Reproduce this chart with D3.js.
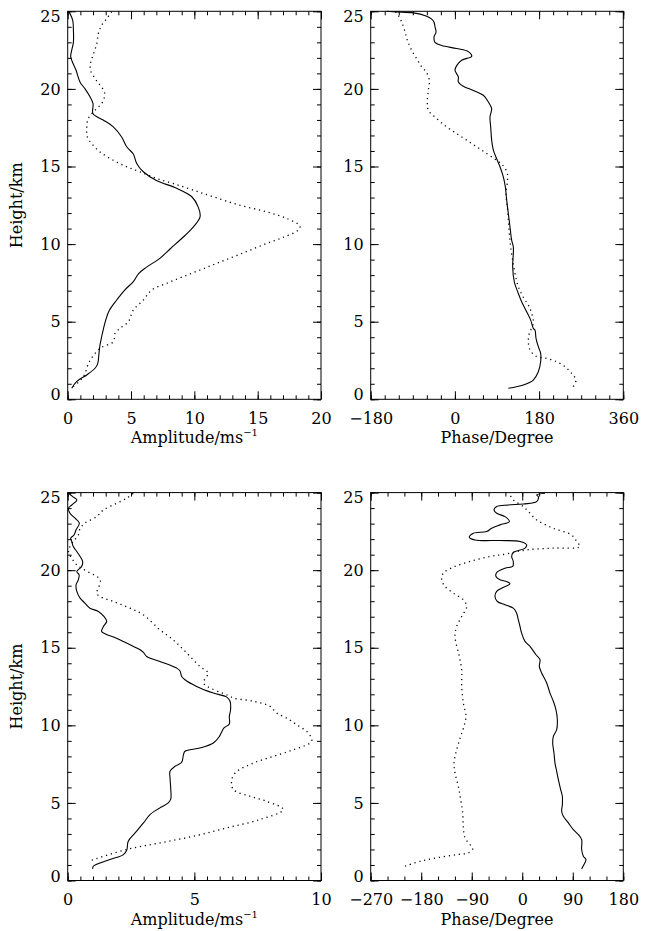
<!DOCTYPE html>
<html>
<head>
<meta charset="utf-8">
<script src="https://cdn.jsdelivr.net/npm/d3@7/dist/d3.min.js"></script>
<style>
body { margin: 0; background: #fff; }
svg text { font-family: "DejaVu Serif", serif; fill: #000; }
.tick text { font-size: 16px; }
.title { font-size: 16px; }
</style>
</head>
<body>
<div id="chart"></div>
<script>
// axis ranges and tick labels
var heightDomain = [0, 25];
var heightTicks = [0, 5, 10, 15, 20, 25];
var ampTopDomain = [0, 20],      ampTopTicks = [0, 5, 10, 15, 20];
var phaseTopDomain = [-180, 360], phaseTopTicks = [-180, 0, 180, 360];
var ampBotDomain = [0, 10],      ampBotTicks = [0, 5, 10];
var phaseBotDomain = [-270, 180], phaseBotTicks = [-270, -180, -90, 0, 90, 180];

// profiles: [height km, value]
var ampTopSolid = [[0.71,0.32],[1.14,0.7],[1.57,1.5],[2.0,2.16],[2.3,2.37],[2.96,2.47],[3.5,2.55],[4.03,2.68],[4.46,2.8],[5.1,3.0],[5.75,3.3],[6.4,3.87],[7.04,4.5],[7.6,5.2],[8.1,5.6],[8.5,6.2],[9.1,7.3],[9.7,8.1],[10.36,9.0],[11.0,9.8],[11.76,10.45],[12.4,10.3],[13.05,9.8],[13.6,8.6],[14.1,7.0],[14.66,5.97],[15.2,5.45],[15.8,5.18],[16.27,4.66],[16.9,4.26],[17.55,3.6],[18.0,2.8],[18.4,2.0],[19.05,2.0],[19.5,1.76],[20.0,1.37],[20.45,0.97],[21.2,0.66],[22.06,0.24],[22.5,0.32],[23.0,0.45],[23.8,0.45],[24.4,0.4],[24.85,0.18],[25.0,0.05]];
var ampTopDotted = [[0.82,0.45],[1.46,1.24],[2.42,1.71],[3.28,2.55],[3.71,3.6],[4.25,3.74],[4.57,4.13],[5.0,4.79],[5.75,5.18],[6.39,5.97],[7.04,6.63],[7.47,7.8],[7.9,9.1],[8.33,10.45],[8.76,11.76],[9.18,13.08],[9.61,14.4],[10.04,15.7],[10.43,17.0],[10.9,18.2],[11.16,18.34],[11.65,17.3],[12.08,15.7],[12.5,13.6],[13.05,11.5],[13.48,9.9],[13.9,8.34],[14.23,7.03],[14.66,5.7],[14.98,4.66],[15.4,3.6],[15.94,2.55],[16.48,1.9],[16.9,1.55],[17.45,1.5],[18.1,1.63],[18.63,2.16],[19.06,2.68],[19.38,2.87],[19.8,2.9],[20.24,2.55],[20.67,2.16],[21.2,1.8],[21.63,1.8],[22.17,2.0],[22.9,2.29],[23.56,2.42],[24.1,2.68],[24.53,3.08],[24.96,3.47]];

var phaseTopSolid = [[0.71,114.2],[0.92,146.3],[1.24,167.6],[1.78,178.3],[2.42,183.3],[2.96,183.3],[3.39,178.3],[3.93,173.4],[4.46,171.2],[4.57,167.6],[5.1,162],[5.64,153.4],[6.29,142.7],[6.82,135.6],[7.57,127],[8.54,123.5],[9.4,124.9],[9.83,124.9],[10.26,121.3],[11.1,117.8],[11.97,114.2],[12.83,110.7],[13.69,107.8],[14.33,103.5],[14.98,96.4],[15.5,89.3],[16.05,82.2],[16.7,78.6],[17.55,76.5],[18.2,75],[18.73,78.6],[19.16,71.5],[19.59,60.8],[19.9,39.4],[20.17,18],[20.45,7.4],[20.77,7.4],[21.2,0.2],[21.5,3.8],[21.85,14.5],[22.1,35.9],[22.4,28.7],[22.6,3.8],[22.8,-28.3],[23.0,-42.5],[23.35,-44.6],[23.67,-40.3],[24.0,-42.5],[24.3,-44.6],[24.5,-49.6],[24.7,-61.7],[24.9,-88.8],[24.96,-124.4],[25.0,-146]];
var phaseTopDotted = [[0.82,253.1],[1.24,258.8],[1.67,249.6],[2.1,235.3],[2.42,217.5],[2.64,196.1],[2.75,174.8],[3.18,160.5],[3.82,157],[4.25,159.1],[4.89,167.6],[5.54,164.1],[6.07,157],[6.5,147.7],[7.25,135.6],[8.11,128.5],[8.97,123.5],[9.83,119.2],[10.69,116.4],[11.55,114.2],[12.4,112.1],[13.26,109.2],[14.0,112.1],[14.55,112.1],[15.09,102.1],[15.4,89.3],[15.84,67.9],[16.27,46.5],[16.7,25.2],[17.12,3.8],[17.55,-17.6],[18.09,-39],[18.63,-56.8],[19.27,-58.9],[19.91,-56.8],[20.56,-54.6],[21.1,-61.7],[21.42,-71],[21.95,-81.7],[22.49,-92.4],[23.13,-101.6],[23.67,-106.6],[24.31,-113.7],[24.74,-120.9],[25.0,-128]];

var ampBotSolid = [[0.75,0.99],[0.92,1.01],[1.35,1.67],[1.67,2.2],[1.95,2.33],[2.53,2.39],[3.07,2.66],[3.71,2.99],[4.25,3.25],[4.68,3.64],[5.0,3.97],[5.26,4.07],[5.86,4.07],[6.61,4.04],[7.04,4.04],[7.36,4.24],[7.62,4.5],[8.11,4.57],[8.33,4.63],[8.54,5.22],[8.86,5.75],[9.29,5.99],[9.83,6.17],[10.09,6.38],[10.58,6.38],[11.0,6.43],[11.55,6.41],[11.82,6.28],[12.08,5.75],[12.51,5.09],[12.94,4.63],[13.15,4.5],[13.52,4.43],[13.69,4.3],[14.12,3.64],[14.44,3.12],[14.7,2.99],[14.87,2.86],[15.19,2.46],[15.62,1.93],[15.9,1.47],[16.05,1.34],[16.37,1.41],[16.7,1.54],[17.02,1.43],[17.34,1.21],[17.55,0.88],[17.88,0.68],[18.2,0.49],[18.63,0.36],[19.06,0.33],[19.38,0.42],[19.7,0.45],[19.91,0.36],[20.24,0.55],[20.56,0.59],[20.88,0.49],[21.2,0.36],[21.52,0.22],[21.85,0.16],[22.06,0.12],[22.27,0.25],[22.6,0.33],[23.03,0.46],[23.35,0.29],[23.67,0.09],[23.99,0.03],[24.2,0.16],[24.53,0.36],[24.74,0.2],[24.96,0.03]];
var ampBotDotted = [[1.31,0.95],[2.0,2.33],[2.42,3.64],[2.85,4.96],[3.39,6.28],[3.93,7.59],[4.57,8.51],[5.1,7.86],[5.43,7.2],[5.86,6.54],[6.4,6.47],[6.93,6.61],[7.57,7.33],[8.0,8.12],[8.43,8.91],[8.97,9.63],[9.5,9.5],[10.04,9.04],[10.47,8.64],[10.79,8.25],[11.22,7.99],[11.55,7.33],[11.76,6.54],[11.87,6.41],[12.73,5.36],[13.15,5.49],[13.37,5.55],[13.8,5.22],[14.66,4.7],[15.5,4.17],[16.16,3.64],[17.12,2.99],[17.55,2.46],[17.98,1.8],[18.3,1.28],[18.52,1.14],[18.84,1.21],[19.38,1.28],[20.0,0.68],[20.34,0.36],[20.77,0.16],[21.2,0.03],[21.52,0.09],[21.85,0.22],[22.27,0.42],[22.7,0.49],[23.03,0.68],[23.45,1.14],[23.88,1.41],[24.31,1.93],[24.64,2.33],[24.96,2.59]];

var phaseBotSolid = [[0.75,105.8],[1.03,110],[1.35,113.5],[1.57,108.8],[2.0,105.8],[2.64,105.8],[2.96,99.9],[3.28,91],[3.71,82.1],[4.14,73.2],[4.46,70.2],[4.89,71.4],[5.43,71.4],[5.86,68.4],[6.5,64.3],[7.04,61.3],[7.57,58.3],[8.22,56.5],[8.86,54.2],[9.29,55.4],[9.72,61.3],[10.36,62.5],[11.0,60.1],[11.55,55.4],[12.08,49.4],[12.73,43.5],[13.37,34.6],[13.8,30.4],[14.23,31.6],[14.55,24.5],[15.09,13.8],[15.41,4.9],[15.94,-1.1],[16.37,-4],[16.8,-7],[17.23,-10],[17.55,-15.9],[17.77,-30.7],[17.98,-44.4],[18.3,-48.6],[18.63,-45.6],[18.84,-36.7],[19.12,-21.8],[19.27,-27.8],[19.38,-39.6],[19.59,-46.8],[19.85,-45.6],[20.13,-30.7],[20.24,-17.1],[20.56,-16],[20.88,-18.9],[21.14,-16],[21.42,4.9],[21.63,7.8],[21.85,-4],[21.91,-39.6],[21.95,-84.2],[22.12,-94.3],[22.38,-87.1],[22.49,-63.4],[22.7,-54.5],[22.92,-39.6],[23.13,-23],[23.45,-30.7],[23.67,-45.6],[23.88,-50.3],[24.1,-45.6],[24.2,-24.8],[24.27,1.9],[24.42,25.7],[24.74,28.6],[24.85,25.7],[24.96,40.5]];
var phaseBotDotted = [[0.92,-208.8],[1.24,-182.1],[1.46,-152.4],[1.67,-116.8],[1.78,-96],[2.04,-88.3],[2.32,-93.1],[2.75,-102],[3.5,-105],[4.36,-106.1],[5.21,-109.7],[6.07,-113.9],[6.93,-119.8],[7.57,-121.6],[8.43,-116.8],[9.29,-109.7],[9.94,-103.8],[10.58,-100.2],[11.44,-105],[12.51,-107.9],[13.58,-107.9],[14.44,-112.1],[15.73,-119.8],[16.37,-116.8],[17.02,-107.9],[17.66,-99],[18.09,-105],[18.52,-122.8],[18.95,-137.6],[19.38,-143.5],[19.81,-140.6],[20.19,-122.8],[20.56,-93.1],[20.88,-57.5],[21.05,-27.8],[21.31,7.8],[21.42,55.3],[21.52,102.8],[21.85,96.9],[22.27,88],[22.7,55.3],[23.24,25.7],[23.67,13.8],[24.1,1.9],[24.53,-15.9],[24.85,-21.8]];

// page layout
var W = 651, H = 931;
var cols = [[67.7, 321], [370.7, 623.3]];
var rows = [[11.3, 399.3], [492.6, 880.5]];

var panels = [
  {col: 0, row: 0, xDomain: ampTopDomain, xTicks: ampTopTicks, xMinor: 1, amp: true, solid: ampTopSolid, dotted: ampTopDotted},
  {col: 1, row: 0, xDomain: phaseTopDomain, xTicks: phaseTopTicks, xMinor: 30, amp: false, solid: phaseTopSolid, dotted: phaseTopDotted},
  {col: 0, row: 1, xDomain: ampBotDomain, xTicks: ampBotTicks, xMinor: 0.5, amp: true, solid: ampBotSolid, dotted: ampBotDotted},
  {col: 1, row: 1, xDomain: phaseBotDomain, xTicks: phaseBotTicks, xMinor: 30, amp: false, solid: phaseBotSolid, dotted: phaseBotDotted}
];

var svg = d3.select("#chart").append("svg")
    .attr("width", W)
    .attr("height", H);

var noLabel = function() { return ""; };

panels.forEach(function(p) {
  var x0 = cols[p.col][0], x1 = cols[p.col][1];
  var y0 = rows[p.row][0], y1 = rows[p.row][1];

  var x = d3.scaleLinear().domain(p.xDomain).range([x0, x1]);
  var y = d3.scaleLinear().domain(heightDomain).range([y1, y0]);

  var g = svg.append("g");

  var xMinor = d3.range(p.xDomain[0], p.xDomain[1] + 1e-6, p.xMinor);
  var yMinor = d3.range(heightDomain[0], heightDomain[1] + 1e-6, 1);

  // minor ticks on all four sides, pointing inward
  g.append("g").attr("transform", "translate(0," + y1 + ")")
      .call(d3.axisBottom(x).tickValues(xMinor).tickSize(-4).tickSizeOuter(0).tickFormat(noLabel));
  g.append("g").attr("transform", "translate(0," + y0 + ")")
      .call(d3.axisTop(x).tickValues(xMinor).tickSize(-4).tickSizeOuter(0).tickFormat(noLabel));
  g.append("g").attr("transform", "translate(" + x0 + ",0)")
      .call(d3.axisLeft(y).tickValues(yMinor).tickSize(-4).tickSizeOuter(0).tickFormat(noLabel));
  g.append("g").attr("transform", "translate(" + x1 + ",0)")
      .call(d3.axisRight(y).tickValues(yMinor).tickSize(-4).tickSizeOuter(0).tickFormat(noLabel));

  // major ticks with labels on bottom and left
  var xAx = g.append("g").attr("transform", "translate(0," + y1 + ")")
      .call(d3.axisBottom(x).tickValues(p.xTicks).tickSize(-8).tickSizeOuter(0).tickFormat(d3.format("d")));
  xAx.selectAll(".tick text").attr("y", 24.5).attr("dy", null);
  g.append("g").attr("transform", "translate(0," + y0 + ")")
      .call(d3.axisTop(x).tickValues(p.xTicks).tickSize(-8).tickSizeOuter(0).tickFormat(noLabel));
  var yAx = g.append("g").attr("transform", "translate(" + x0 + ",0)")
      .call(d3.axisLeft(y).tickValues(heightTicks).tickSize(-8).tickSizeOuter(0).tickPadding(7).tickFormat(d3.format("d")));
  g.append("g").attr("transform", "translate(" + x1 + ",0)")
      .call(d3.axisRight(y).tickValues(heightTicks).tickSize(-8).tickSizeOuter(0).tickFormat(noLabel));

  // end labels are kept inside the frame height
  yAx.selectAll(".tick text").attr("y", function(d) {
    var py = y(d);
    return Math.max(y0 + 5, Math.min(y1 - 4.5, py)) - py;
  });

  g.selectAll(".domain").remove();

  g.append("rect")
      .attr("x", x0).attr("y", y0)
      .attr("width", x1 - x0).attr("height", y1 - y0)
      .attr("fill", "none").attr("stroke", "#000").attr("stroke-width", 1);

  var line = d3.line()
      .x(function(d) { return x(d[1]); })
      .y(function(d) { return y(d[0]); })
      .curve(d3.curveCatmullRom.alpha(0.5));

  g.append("path").datum(p.solid)
      .attr("d", line)
      .attr("fill", "none").attr("stroke", "#000").attr("stroke-width", 1.1);
  g.append("path").datum(p.dotted)
      .attr("d", line)
      .attr("fill", "none").attr("stroke", "#000").attr("stroke-width", 1.3)
      .attr("stroke-dasharray", "1.2,3.8");

  // axis titles
  var xt = g.append("text").attr("class", "title")
      .attr("x", (x0 + x1) / 2).attr("y", y1 + 44)
      .attr("text-anchor", "middle");
  if (p.amp) {
    xt.text("Amplitude/ms");
    xt.append("tspan").attr("dy", -7).attr("font-size", 10).text("\u22121");
    g.append("text").attr("class", "title")
        .attr("transform", "translate(22," + ((y0 + y1) / 2) + ") rotate(-90)")
        .attr("text-anchor", "middle")
        .text("Height/km");
  } else {
    xt.text("Phase/Degree");
  }
});
</script>
</body>
</html>
